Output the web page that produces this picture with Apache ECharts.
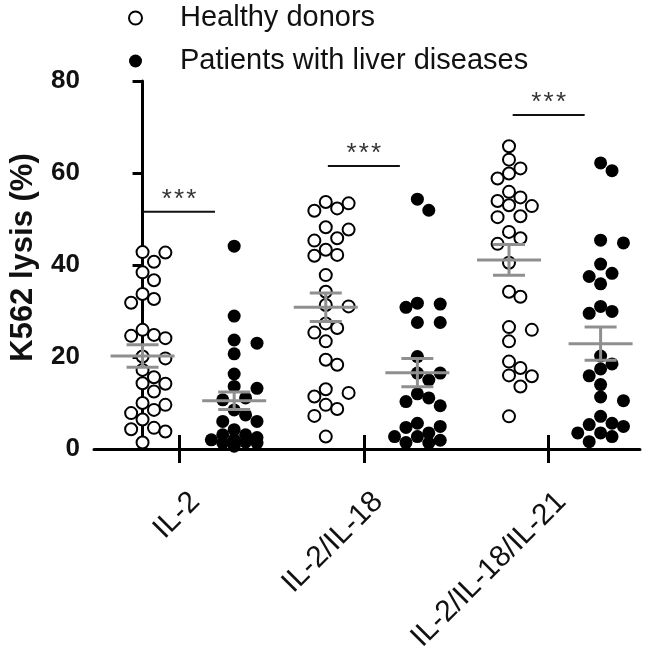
<!DOCTYPE html>
<html><head><meta charset="utf-8">
<script src="https://cdn.jsdelivr.net/npm/echarts@6/dist/echarts.min.js"></script>
<style>html,body{margin:0;padding:0;background:#fff}#c{width:653px;height:655px}</style>
</head><body><div id="c"></div>
<script>
// ---- data ----
const categories = ['IL-2', 'IL-2/IL-18', 'IL-2/IL-18/IL-21'];
const seriesNames = ['Healthy donors', 'Patients with liver diseases'];
const healthyIL2 = [42.8, 42.7, 40.7, 38.4, 36.7, 33.7, 32.6, 31.8, 25.9, 24.8, 24.6, 24.1, 20.1, 19.7, 17.2, 15.6, 14.3, 14.2, 12.5, 10.0, 9.6, 8.5, 7.8, 6.4, 4.6, 4.3, 3.8, 1.4];
const patientsIL2 = [44.1, 28.9, 23.7, 23.0, 20.7, 16.3, 13.6, 13.2, 11.1, 10.7, 8.5, 7.4, 6.0, 6.0, 4.2, 3.1, 3.1, 2.5, 2.0, 2.0, 1.5, 1.3, 1.3, 0.6];
const healthyIL18 = [53.7, 53.4, 52.3, 51.8, 48.2, 47.7, 45.8, 45.3, 43.3, 42.2, 42.0, 37.8, 34.2, 31.3, 31.0, 27.3, 26.3, 25.3, 23.4, 19.4, 18.3, 13.0, 12.2, 11.4, 9.6, 8.7, 7.2, 2.7];
const patientsIL18 = [54.3, 51.9, 31.7, 31.5, 30.8, 27.5, 27.5, 20.1, 16.5, 16.5, 15.0, 12.0, 11.1, 10.3, 9.4, 5.6, 4.9, 4.7, 3.5, 2.7, 2.7, 1.9, 1.4, 1.3];
const healthyIL21 = [65.8, 62.9, 61.0, 59.9, 58.8, 55.9, 54.7, 53.9, 53.0, 52.8, 50.6, 50.4, 47.2, 45.8, 44.6, 40.5, 34.2, 33.1, 26.5, 25.9, 23.4, 19.0, 17.6, 16.0, 15.8, 13.6, 7.1];
const patientsIL21 = [62.2, 60.5, 45.4, 44.8, 40.2, 38.2, 37.5, 35.9, 31.0, 29.9, 29.5, 20.2, 18.5, 17.4, 15.9, 14.0, 11.3, 10.5, 7.1, 5.6, 5.3, 4.9, 3.5, 3.5, 2.7, 1.6];
// mean and SEM per column (healthy IL-2, patients IL-2, healthy IL-2/IL-18, ...)
const meanValues = [20.2, 10.5, 30.8, 16.6, 41.1, 22.9];
const semValues = [2.45, 1.9, 3.1, 3.05, 3.35, 3.6];
// significance bars per category
const sigLevels = [51.6, 61.5, 72.6];
const sigLabels = ['***', '***', '***'];
const yTicks = [0, 20, 40, 60, 80];

// ---- layout / styles ----
const FONT = "'Liberation Sans', Arial, sans-serif";
const GRID = {left: 90, top: 81, width: 550, height: 368};
const TICK_GRID = {left: 86.6, width: 554.5};
const LABEL_SHIFT = 17;
const X_MIN = -0.53, X_MAX = 5.43;
const pxPerCol = GRID.width / (X_MAX - X_MIN);
const pxPerUnit = GRID.height / (yTicks[yTicks.length - 1] - yTicks[0]);
const STEP = 11.5, DIAM = 12.2, MAXK = 2;
const GRAY = '#8f8f8f';

function swarm(vals, col) {
  const placed = [], out = [];
  const sorted = vals.slice().sort((a, b) => b - a);
  for (const v of sorted) {
    const y = v * pxPerUnit;
    let best = null, bestD = -1;
    for (let k = 0; k <= 2 * MAXK; k++) {
      const o = (k % 2 === 1 ? 1 : -1) * Math.ceil(k / 2) * STEP;
      const d = placed.reduce((m, p) => Math.min(m, Math.hypot(p[0] - o, p[1] - y)), Infinity);
      if (d >= DIAM) { best = o; break; }
      if (d > bestD) { bestD = d; best = o; }
    }
    placed.push([best, y]);
    out.push([col + best / pxPerCol, v]);
  }
  return out;
}
const healthyCols = [healthyIL2, healthyIL18, healthyIL21];
const patientCols = [patientsIL2, patientsIL18, patientsIL21];
const healthyData = [], patientData = [];
healthyCols.forEach((vals, g) => healthyData.push(...swarm(vals, 2 * g)));
patientCols.forEach((vals, g) => patientData.push(...swarm(vals, 2 * g + 1)));
const meanData = meanValues.map((m, i) => [i, m, semValues[i]]);
const sigData = sigLevels.map((y, g) => [g, y, sigLabels[g]]);

const yRange = {min: yTicks[0], max: yTicks[yTicks.length - 1]};
const hiddenY = (gi) => ({type: 'value', gridIndex: gi, min: yRange.min, max: yRange.max, show: false});
const catTick = (gi, inside) => ({type: 'category', gridIndex: gi, data: categories, position: 'bottom', boundaryGap: true,
  axisLine: {show: false}, axisTick: {show: true, inside: inside, alignWithLabel: true, length: 14, lineStyle: {color: '#000', width: 3}},
  axisLabel: {show: false}, splitLine: {show: false}});

const chart = echarts.init(document.getElementById('c'), null, {renderer: 'canvas'});
chart.setOption({
  animation: false,
  backgroundColor: '#fff',
  textStyle: {fontFamily: FONT},
  legend: {
    orient: 'vertical', left: 128, top: 2, padding: 0, itemGap: 11,
    itemWidth: 13, itemHeight: 13,
    textStyle: {fontSize: 29, fontFamily: FONT, color: '#111', lineHeight: 32, padding: [0, 0, 0, 33]},
    data: [
      {name: seriesNames[0], icon: 'circle', itemStyle: {color: '#fff', borderColor: '#000', borderWidth: 2}},
      {name: seriesNames[1], icon: 'circle', itemStyle: {color: '#000', borderWidth: 0}}
    ]
  },
  grid: [
    {left: GRID.left, top: GRID.top, width: GRID.width, height: GRID.height},
    {left: TICK_GRID.left, top: GRID.top, width: TICK_GRID.width, height: GRID.height},
    {left: TICK_GRID.left + LABEL_SHIFT, top: GRID.top, width: TICK_GRID.width, height: GRID.height}
  ],
  xAxis: [
    {type: 'value', gridIndex: 0, min: X_MIN, max: X_MAX, axisLine: {show: true, lineStyle: {color: '#000', width: 3}},
     axisTick: {show: false}, axisLabel: {show: false}, splitLine: {show: false}},
    catTick(1, false),
    catTick(1, true),
    {type: 'category', gridIndex: 2, data: categories, position: 'bottom', boundaryGap: true,
     axisLine: {show: false}, axisTick: {show: false},
     axisLabel: {rotate: 45, fontSize: 30, fontFamily: FONT, color: '#111', margin: 52, interval: 0}, splitLine: {show: false}}
  ],
  yAxis: [
    {type: 'value', gridIndex: 0, min: yRange.min, max: yRange.max, interval: yTicks[1] - yTicks[0],
     name: 'K562 lysis (%)', nameLocation: 'middle', nameGap: 55,
     nameTextStyle: {fontSize: 31, fontWeight: 'bold', fontFamily: FONT, color: '#111', padding: [0, 0, 0, 15]},
     axisLine: {show: true, lineStyle: {color: '#000', width: 3}},
     axisTick: {show: true, length: 10, lineStyle: {color: '#000', width: 3}},
     axisLabel: {fontSize: 26, fontWeight: 'bold', fontFamily: FONT, color: '#111', margin: 14},
     splitLine: {show: false}},
    hiddenY(1),
    hiddenY(2)
  ],
  series: [
    {name: seriesNames[0], type: 'scatter', xAxisIndex: 0, yAxisIndex: 0, data: healthyData, symbol: 'circle', symbolSize: 12,
     itemStyle: {color: '#fff', borderColor: '#000', borderWidth: 2, opacity: 1}, clip: false, z: 3},
    {name: seriesNames[1], type: 'scatter', xAxisIndex: 0, yAxisIndex: 0, data: patientData, symbol: 'circle', symbolSize: 13,
     itemStyle: {color: '#000', opacity: 1}, clip: false, z: 3},
    {type: 'custom', xAxisIndex: 0, yAxisIndex: 0, data: meanData, z: 5, silent: true, clip: false,
     renderItem: function (params, api) {
       const c = api.value(0), m = api.value(1), s = api.value(2);
       const pm = api.coord([c, m]), ph = api.coord([c, m + s]), pl = api.coord([c, m - s]);
       const st = {stroke: GRAY, lineWidth: 3};
       return {type: 'group', children: [
         {type: 'line', shape: {x1: pm[0] - 32, y1: pm[1], x2: pm[0] + 32, y2: pm[1]}, style: st},
         {type: 'line', shape: {x1: ph[0], y1: ph[1], x2: pl[0], y2: pl[1]}, style: st},
         {type: 'line', shape: {x1: ph[0] - 16, y1: ph[1], x2: ph[0] + 16, y2: ph[1]}, style: st},
         {type: 'line', shape: {x1: pl[0] - 16, y1: pl[1], x2: pl[0] + 16, y2: pl[1]}, style: st}
       ]};
     }},
    {type: 'custom', xAxisIndex: 1, yAxisIndex: 1, data: sigData, z: 5, silent: true, clip: false,
     renderItem: function (params, api) {
       const p = api.coord([api.value(0), api.value(1)]);
       return {type: 'group', children: [
         {type: 'line', shape: {x1: p[0] - 36, y1: p[1], x2: p[0] + 36, y2: p[1]}, style: {stroke: '#111', lineWidth: 2}},
         {type: 'text', x: p[0], y: p[1] - 12, style: {text: sigData[params.dataIndex][2].split('').join('\u200a'), fontSize: 26, fontFamily: FONT, fill: '#333', align: 'center', verticalAlign: 'middle'}}
       ]};
     }}
  ]
});
</script></body></html>
